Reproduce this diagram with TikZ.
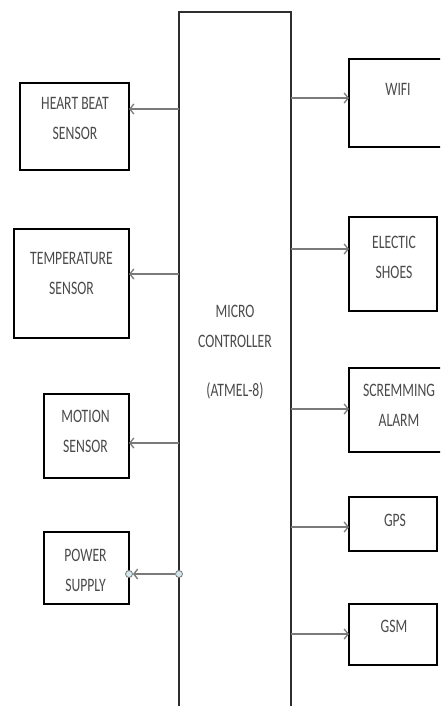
\documentclass[tikz,border=0pt]{standalone}
\usepackage{fontspec}
\setmainfont{Carlito}
\usetikzlibrary{arrows.meta}
\definecolor{txtgray}{HTML}{4A4A4A}
\definecolor{conngray}{HTML}{7A7A7A}
\definecolor{mcgray}{HTML}{2E2E2E}
\definecolor{dotfill}{HTML}{D2E8EE}
\newcommand{\boxtxt}[1]{\scalebox{0.72}[1]{\begin{tabular}{@{}c@{}}#1\end{tabular}}}
\tikzset{
  blockbox/.style={draw=black, line width=2.6pt, minimum width=#1, inner sep=0pt, outer sep=0pt},
  lbl/.style={text=txtgray, font=\fontsize{19}{30}\selectfont, inner sep=0pt},
  conn/.style={draw=conngray, line width=1.3pt, -{Straight Barb[length=4pt,width=10pt,line width=1.3pt]}},
  dot/.style={circle, draw=conngray, fill=dotfill, line width=0.8pt, minimum size=7pt, inner sep=0pt}
}
\begin{document}
\begin{tikzpicture}[x=1pt,y=-1pt]
\useasboundingbox (0,0) rectangle (440,706);
\clip (0,0) rectangle (440,706);
% micro controller
\node[minimum width=112pt, minimum height=694pt, inner sep=0pt, outer sep=0pt] (mc) at (235,359) {};
\draw[mcgray, line width=2pt] (mc.south west) -- (mc.north west) -- (mc.north east) -- (mc.south east);
\node[lbl] (mct) at (235,350.5) {\boxtxt{MICRO\\CONTROLLER\\[19pt](ATMEL-8)}};
% left boxes
\node[blockbox=109pt, minimum height=87pt] (hb) at (74.5,126.5) {};
\node[lbl] (hbt) at (75,118) {\boxtxt{HEART BEAT\\SENSOR}};
\node[blockbox=115pt, minimum height=109pt] (tp) at (71.5,283.5) {};
\node[lbl] (tpt) at (71.5,273) {\boxtxt{TEMPERATURE\\SENSOR}};
\node[blockbox=85pt, minimum height=84pt] (ms) at (86.5,436) {};
\node[lbl] (mst) at (85.5,431) {\boxtxt{MOTION\\SENSOR}};
\node[blockbox=85pt, minimum height=72pt] (ps) at (86.5,568) {};
\node[lbl] (pst) at (85.5,570) {\boxtxt{POWER\\SUPPLY}};
% right boxes
\node[blockbox=93pt, minimum height=88pt] (wf) at (395.5,103) {};
\node[lbl] (wft) at (398,90) {\boxtxt{WIFI}};
\node[blockbox=88pt, minimum height=94pt] (es) at (393,264) {};
\node[lbl] (est) at (394,257) {\boxtxt{ELECTIC\\SHOES}};
\node[blockbox=93pt, minimum height=84pt] (sa) at (395.5,410) {};
\node[lbl] (sat) at (399,405) {\boxtxt{SCREMMING\\ALARM}};
\node[blockbox=88pt, minimum height=54pt] (gp) at (393,524) {};
\node[lbl] (gpt) at (395,520) {\boxtxt{GPS}};
\node[blockbox=88pt, minimum height=61pt] (gs) at (393,634.5) {};
\node[lbl] (gst) at (394,626) {\boxtxt{GSM}};
% arrow levels
\coordinate (ahb) at (0,109);
\coordinate (atp) at (0,274);
\coordinate (ams) at (0,443);
\coordinate (aps) at (0,574);
\coordinate (awf) at (0,98);
\coordinate (aes) at (0,249);
\coordinate (asa) at (0,409);
\coordinate (agp) at (0,527);
\coordinate (ags) at (0,634);
% left connectors
\draw[conn] (mc.west |- ahb) -- (hb.east |- ahb);
\draw[conn] (mc.west |- atp) -- (tp.east |- atp);
\draw[conn] (mc.west |- ams) -- (ms.east |- ams);
\node[dot] (d1) at (mc.west |- aps) {};
\node[dot] (d2) at (ps.east |- aps) {};
\draw[conn] (d1) -- (d2);
% right connectors
\draw[conn] (mc.east |- awf) -- (wf.west |- awf);
\draw[conn] (mc.east |- aes) -- (es.west |- aes);
\draw[conn] (mc.east |- asa) -- (sa.west |- asa);
\draw[conn] (mc.east |- agp) -- (gp.west |- agp);
\draw[conn] (mc.east |- ags) -- (gs.west |- ags);
\end{tikzpicture}
\end{document}
